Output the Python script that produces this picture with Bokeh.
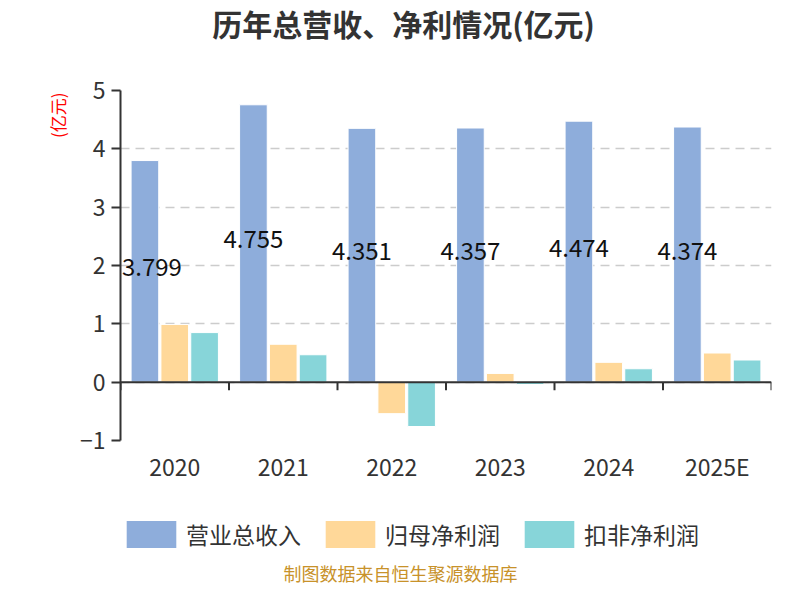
from bokeh.plotting import figure
from bokeh.layouts import column
from bokeh.models import (ColumnDataSource, FactorRange, FixedTicker, Span, Legend,
                          LegendItem, LabelSet, Label, Title)
from bokeh.transform import dodge
from bokeh.core.properties import value
from bokeh.embed import file_html
from bokeh.resources import INLINE

# ---------------- data ----------------
years = ["2020", "2021", "2022", "2023", "2024", "2025E"]
revenue = [3.799, 4.755, 4.351, 4.357, 4.474, 4.374]
net_profit = [0.99, 0.65, -0.54, 0.15, 0.34, 0.50]
deducted_profit = [0.85, 0.47, -0.76, -0.04, 0.23, 0.38]
series_names = ["营业总收入", "归母净利润", "扣非净利润"]
y_ticks = [-1, 0, 1, 2, 3, 4, 5]
title_text = "历年总营收、净利情况(亿元)"
unit_text = "(亿元)"
source_text = "制图数据来自恒生聚源数据库"

# ---------------- style ----------------
colors = ["#8EADDB", "#FFD899", "#87D5D9"]
FONT = "Noto Sans CJK SC"
TXT = "#333333"
W, H = 784, 584
FL, FR, FT, FB = 120, 771, 90, 440          # frame edges in page pixels
H0 = 50                                     # title strip
H1 = 440                                    # main chart
H2 = H - H0 - H1                            # legend / source strip
Y0, Y1 = -1, 5
NCAT = len(years)


def strip(height):
    """A bare figure whose data units equal page pixels (frame aligned with the chart)."""
    f = figure(width=W, height=height, x_range=(FL, FR), y_range=(0, height),
               output_backend="svg", toolbar_location=None,
               x_axis_location=None, y_axis_location=None,
               min_border_left=0, min_border_right=0,
               min_border_top=0, min_border_bottom=0)
    f.outline_line_color = None
    f.xgrid.visible = False
    f.ygrid.visible = False
    f.title.text = ""
    return f


# ---------------- title strip ----------------
p0 = strip(H0)
p0.add_layout(Label(x=403, y=H0 - 22.5, text=title_text, text_font=FONT,
                    text_font_size="30px", text_font_style="bold", text_color=TXT,
                    text_align="center", text_baseline="middle"))

# ---------------- main chart ----------------
src = ColumnDataSource(dict(
    year=years, rev=revenue, np=net_profit, dp=deducted_profit,
    rev_label=[f"{v:.3f}" for v in revenue],
    rev_mid=[v / 2 for v in revenue],
    lab_dx=[7] + [0] * (len(years) - 1),
))

p = figure(width=W, height=H1, x_range=FactorRange(*years), y_range=(Y0, Y1),
           output_backend="svg", toolbar_location=None,
           min_border_left=FL, min_border_right=W - FR,
           min_border_top=FT - H0, min_border_bottom=H0 + H1 - FB)
p.outline_line_color = None
p.title.text = ""

# grid
p.xgrid.visible = False
p.ygrid.grid_line_color = "#cccccc"
p.ygrid.grid_line_dash = "9 6"
p.ygrid.grid_line_width = 1.5

# y axis
p.yaxis.ticker = FixedTicker(ticks=y_ticks)
p.yaxis.axis_line_color = TXT
p.yaxis.axis_line_width = 2
p.yaxis.major_tick_line_color = TXT
p.yaxis.major_tick_line_width = 2
p.yaxis.major_tick_out = 9
p.yaxis.major_tick_in = 0
p.yaxis.minor_tick_line_color = None
p.yaxis.major_label_text_font = FONT
p.yaxis.major_label_text_font_size = "23px"
p.yaxis.major_label_text_color = TXT
p.yaxis.major_label_standoff = 6

# unit label (left of the y axis, at its top)
p.add_layout(Title(text=unit_text, align="right", offset=2, standoff=14,
                   text_font=FONT, text_font_size="17px", text_font_style="normal",
                   text_color="red"), "left")

# x axis
p.xaxis.axis_line_color = None
p.xaxis.major_tick_line_color = None
p.xaxis.minor_tick_line_color = None
p.xaxis.major_label_text_font = FONT
p.xaxis.major_label_text_font_size = "23px"
p.xaxis.major_label_text_color = TXT
p.xaxis.major_label_standoff = 2

# bars
offsets = [-0.275, 0.0, 0.275]
fields = ["rev", "np", "dp"]
for f, off, c in zip(fields, offsets, colors):
    p.vbar(x=dodge("year", off, range=p.x_range), top=f, bottom=0, width=0.255,
           source=src, fill_color=c, line_color="white", line_width=1)

# zero axis line with category boundary ticks
p.add_layout(Span(location=0, dimension="width", line_color=TXT, line_width=2))
tick_len = (Y1 - Y0) * 8 / (FB - FT)
bounds = list(range(NCAT + 1))
p.segment(x0=bounds, x1=bounds, y0=[0] * len(bounds), y1=[-tick_len] * len(bounds),
          line_color=TXT, line_width=2)

# value labels
p.add_layout(LabelSet(x=dodge("year", offsets[0], range=p.x_range), y="rev_mid",
                      text="rev_label", source=src, text_align="center",
                      text_baseline="middle", y_offset=4, x_offset="lab_dx",
                      text_font=value(FONT), text_font_size=value("24px"),
                      text_color="#111111"))

# ---------------- legend / source strip ----------------
p2 = strip(H2)
leg_src = ColumnDataSource(dict(name=series_names, x=[FL] * 3, z=[0] * 3))
legend_renderers = [p2.vbar(x="x", top="z", bottom="z", width=0, source=leg_src,
                            fill_color=c, line_color=None)
                    for c in colors]
legend = Legend(items=[LegendItem(label=n, renderers=[r], index=i)
                       for i, (n, r) in enumerate(zip(series_names, legend_renderers))],
                orientation="horizontal", location=(0, 33),
                glyph_width=62, glyph_height=34, label_standoff=4, spacing=18,
                padding=0, margin=0, border_line_color=None, background_fill_alpha=0,
                label_text_font=FONT, label_text_font_size="23px", label_text_color=TXT)
p2.add_layout(legend)

p2.add_layout(Label(x=400, y=12, text=source_text, text_font=FONT,
                    text_font_size="18px", text_color="#C8922A",
                    text_align="center", text_baseline="middle"))

open("out.html", "w").write(file_html(column(p0, p, p2), INLINE))
